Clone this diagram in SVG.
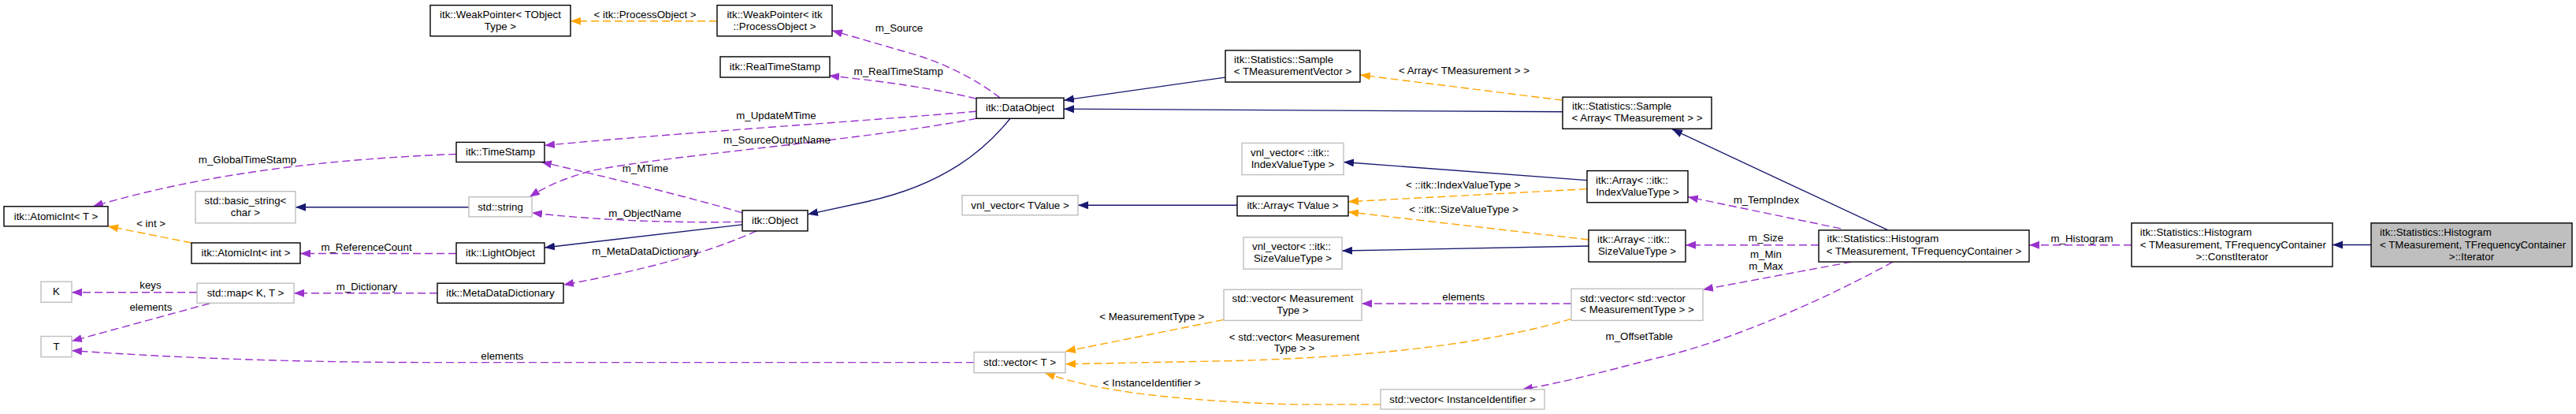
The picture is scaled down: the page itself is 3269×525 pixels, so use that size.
<svg xmlns="http://www.w3.org/2000/svg" width="3269" height="525" viewBox="0 0 3269 525">
<style>
text{font-family:"Liberation Sans",Arial,sans-serif;font-size:13.3px;fill:#000}
.m{text-anchor:middle}
.s{text-anchor:start}
.nb{fill:#fff;stroke:#000;stroke-width:1.4}
.ng{fill:#fff;stroke:#bfbfbf;stroke-width:1.4}
.nh{fill:#bfbfbf;stroke:#000;stroke-width:1.4}
.inh{fill:none;stroke:#191970;stroke-width:1.3;marker-end:url(#ab)}
.use{fill:none;stroke:#9a32cd;stroke-width:1.4;stroke-dasharray:10,5;marker-end:url(#ap)}
.tpl{fill:none;stroke:#ffa500;stroke-width:1.4;stroke-dasharray:10,5;marker-end:url(#ao)}
</style>
<defs>
<marker id="ab" viewBox="0 0 13 10" refX="13" refY="5" markerWidth="13" markerHeight="10" markerUnits="userSpaceOnUse" orient="auto"><path d="M0,0 L13,5 L0,10 z" fill="#191970"/></marker>
<marker id="ap" viewBox="0 0 13 10" refX="13" refY="5" markerWidth="13" markerHeight="10" markerUnits="userSpaceOnUse" orient="auto"><path d="M0,0 L13,5 L0,10 z" fill="#9a32cd"/></marker>
<marker id="ao" viewBox="0 0 13 10" refX="13" refY="5" markerWidth="13" markerHeight="10" markerUnits="userSpaceOnUse" orient="auto"><path d="M0,0 L13,5 L0,10 z" fill="#ffa500"/></marker>
</defs>
<rect width="3269" height="525" fill="#fff"/>
<g id="diagram" transform="translate(0,0.6) scale(1,1.0045)">
<g id="connectors">
<path class="inh" d="M3009,308.5 L2960,308.5"/>
<path class="inh" d="M2396,290 L2122,162.5"/>
<path class="inh" d="M1983,140.5 L1350,137"/>
<path class="inh" d="M1555,97 L1350,126"/>
<path class="inh" d="M1282,149 C1250,188 1200,232 1100,254 L1025,270"/>
<path class="inh" d="M942,283 L691,312"/>
<path class="inh" d="M595,261 L375,261"/>
<path class="inh" d="M1570,258.5 L1368,258.5"/>
<path class="inh" d="M2014,227 L1705,204"/>
<path class="inh" d="M2016,310 L1703,316"/>
<path class="tpl" d="M910,26 L724,26"/>
<path class="tpl" d="M243,306 L137,285"/>
<path class="tpl" d="M1983,126 L1726,94"/>
<path class="tpl" d="M2014,238 L1711,254"/>
<path class="tpl" d="M2016,302 L1711,267"/>
<path class="tpl" d="M1553,403 L1352,443"/>
<path class="tpl" d="M1994,402 C1900,430 1760,450 1560,455 L1352,459"/>
<path class="tpl" d="M1752,510 L1640,510 C1520,506 1400,497 1326,470"/>
<path class="use" d="M2705,308.7 L2575,308.7"/>
<path class="use" d="M2336,288 L2142,248"/>
<path class="use" d="M2308,308.7 L2139,308.7"/>
<path class="use" d="M2350,330 L2161,365"/>
<path class="use" d="M2402,330 C2330,370 2200,430 2100,452 C2030,470 1985,482 1932,491"/>
<path class="use" d="M1994,382.7 L1728,382.7"/>
<path class="use" d="M1236,457 L560,457 C400,457 250,453 91,442"/>
<path class="use" d="M250,368.5 L91,368.5"/>
<path class="use" d="M266,382.5 L91,430"/>
<path class="use" d="M555,369.5 L373,369.5"/>
<path class="use" d="M579,319.5 L381,319.5"/>
<path class="use" d="M579,194 C420,200 260,218 118,260"/>
<path class="use" d="M942,268 C880,250 780,225 687,204"/>
<path class="use" d="M942,279.5 C860,281 760,278 675,268"/>
<path class="use" d="M960,291 C900,318 820,340 715,359"/>
<path class="use" d="M1239,140 C1100,152 850,168 691,183"/>
<path class="use" d="M1239,149 C1100,176 850,195 750,215 C715,225 692,235 672,248"/>
<path class="use" d="M1239,124 C1180,110 1120,102 1052,95"/>
<path class="use" d="M1269,123 C1240,100 1200,80 1160,68 L1056,38"/>
<text class="m" x="818.6" y="22">&lt; itk::ProcessObject &gt;</text>
<text class="m" x="191.6" y="286">&lt; int &gt;</text>
<text class="m" x="314" y="205.5">m_GlobalTimeStamp</text>
<text class="m" x="465" y="316">m_ReferenceCount</text>
<text class="m" x="191" y="364">keys</text>
<text class="m" x="465.5" y="365.5">m_Dictionary</text>
<text class="m" x="191.4" y="392">elements</text>
<text class="m" x="985" y="149.5">m_UpdateMTime</text>
<text class="m" x="986" y="180.5">m_SourceOutputName</text>
<text class="m" x="819" y="216">m_MTime</text>
<text class="m" x="818.4" y="272.8">m_ObjectName</text>
<text class="m" x="818.8" y="320.5">m_MetaDataDictionary</text>
<text class="m" x="637.3" y="453">elements</text>
<text class="m" x="1141" y="38.8">m_Source</text>
<text class="m" x="1140.2" y="93.8">m_RealTimeStamp</text>
<text class="m" x="1461.8" y="403.5">&lt; MeasurementType &gt;</text>
<text class="m" x="1461.6" y="486.8">&lt; InstanceIdentifier &gt;</text>
<text class="m" x="1858" y="92.8">&lt; Array&lt; TMeasurement &gt; &gt;</text>
<text class="m" x="1856.6" y="237.2">&lt; ::itk::IndexValueType &gt;</text>
<text class="m" x="1857.5" y="267.8">&lt; ::itk::SizeValueType &gt;</text>
<text class="m" x="1857.3" y="379.2">elements</text>
<text class="m" x="1642.5" y="429.5">&lt; std::vector&lt; Measurement</text>
<text class="m" x="1642.5" y="443">Type &gt; &gt;</text>
<text class="m" x="2080.3" y="428.8">m_OffsetTable</text>
<text class="m" x="2241.4" y="256.2">m_TempIndex</text>
<text class="m" x="2241" y="304.5">m_Size</text>
<text class="m" x="2241" y="324.8">m_Min</text>
<text class="m" x="2241" y="339.5">m_Max</text>
<text class="m" x="2642" y="304.8">m_Histogram</text>
</g>
<g id="n_atomicT"><rect class="nb" x="5" y="260" width="132" height="25"/><text class="m" x="71" y="277">itk::AtomicInt&lt; T &gt;</text></g>
<g id="n_basicstring"><rect class="ng" x="248" y="241" width="127" height="40"/><text class="m" x="311.5" y="257">std::basic_string&lt;</text><text class="m" x="311.5" y="272">char &gt;</text></g>
<g id="n_atomicInt"><rect class="nb" x="243" y="306" width="138" height="26"/><text class="m" x="312" y="323">itk::AtomicInt&lt; int &gt;</text></g>
<g id="n_K"><rect class="ng" x="52" y="355" width="39" height="26"/><text class="m" x="71.5" y="372">K</text></g>
<g id="n_map"><rect class="ng" x="250" y="357" width="123" height="25"/><text class="m" x="311.5" y="374">std::map&lt; K, T &gt;</text></g>
<g id="n_T"><rect class="ng" x="52" y="424" width="39" height="26"/><text class="m" x="71.5" y="441">T</text></g>
<g id="n_wpTObject"><rect class="nb" x="546" y="6" width="178" height="39"/><text class="m" x="635" y="22">itk::WeakPointer&lt; TObject</text><text class="m" x="635" y="37">Type &gt;</text></g>
<g id="n_timestamp"><rect class="nb" x="579" y="179" width="112" height="25"/><text class="m" x="635" y="196">itk::TimeStamp</text></g>
<g id="n_string"><rect class="ng" x="595" y="248" width="80" height="25"/><text class="m" x="635" y="265">std::string</text></g>
<g id="n_lightobject"><rect class="nb" x="579" y="306" width="112" height="26"/><text class="m" x="635" y="323">itk::LightObject</text></g>
<g id="n_mdd"><rect class="nb" x="555" y="357" width="160" height="25"/><text class="m" x="635" y="374">itk::MetaDataDictionary</text></g>
<g id="n_wpProc"><rect class="nb" x="910" y="6" width="146" height="39"/><text class="m" x="983" y="22">itk::WeakPointer&lt; itk</text><text class="m" x="983" y="37">::ProcessObject &gt;</text></g>
<g id="n_realtimestamp"><rect class="nb" x="914" y="71" width="139" height="26"/><text class="m" x="983.5" y="88">itk::RealTimeStamp</text></g>
<g id="n_object"><rect class="nb" x="942" y="265" width="83" height="26"/><text class="m" x="983.5" y="282">itk::Object</text></g>
<g id="n_dataobject"><rect class="nb" x="1239" y="123" width="111" height="26"/><text class="m" x="1294.5" y="140">itk::DataObject</text></g>
<g id="n_vnlTValue"><rect class="ng" x="1221" y="246" width="147" height="25"/><text class="m" x="1294.5" y="263">vnl_vector&lt; TValue &gt;</text></g>
<g id="n_vectorT"><rect class="ng" x="1236" y="444" width="116" height="26"/><text class="m" x="1294" y="461">std::vector&lt; T &gt;</text></g>
<g id="n_sampleTMV"><rect class="nb" x="1555" y="63" width="171" height="40"/><text class="s" x="1566" y="79">itk::Statistics::Sample</text><text class="m" x="1640.5" y="94">&lt; TMeasurementVector &gt;</text></g>
<g id="n_vnlIndex"><rect class="ng" x="1576" y="180" width="129" height="40"/><text class="s" x="1587" y="196.5">vnl_vector&lt; ::itk::</text><text class="m" x="1640.5" y="211">IndexValueType &gt;</text></g>
<g id="n_arrayTValue"><rect class="nb" x="1570" y="247" width="141" height="25"/><text class="m" x="1640.5" y="263">itk::Array&lt; TValue &gt;</text></g>
<g id="n_vnlSize"><rect class="ng" x="1578" y="299" width="125" height="40"/><text class="s" x="1589" y="315">vnl_vector&lt; ::itk::</text><text class="m" x="1640.5" y="330">SizeValueType &gt;</text></g>
<g id="n_vecMT"><rect class="ng" x="1553" y="365" width="175" height="39"/><text class="m" x="1640.5" y="381">std::vector&lt; Measurement</text><text class="m" x="1640.5" y="395.5">Type &gt;</text></g>
<g id="n_sampleArr"><rect class="nb" x="1983" y="122" width="189" height="40"/><text class="s" x="1995" y="138">itk::Statistics::Sample</text><text class="m" x="2077.5" y="153">&lt; Array&lt; TMeasurement &gt; &gt;</text></g>
<g id="n_arrIndex"><rect class="nb" x="2014" y="215" width="128" height="40"/><text class="s" x="2025" y="231">itk::Array&lt; ::itk::</text><text class="m" x="2078" y="246">IndexValueType &gt;</text></g>
<g id="n_arrSize"><rect class="nb" x="2016" y="290" width="123" height="40"/><text class="s" x="2027" y="306">itk::Array&lt; ::itk::</text><text class="m" x="2077.5" y="321">SizeValueType &gt;</text></g>
<g id="n_vecvec"><rect class="ng" x="1994" y="364" width="167" height="40"/><text class="s" x="2005" y="380.5">std::vector&lt; std::vector</text><text class="m" x="2077.5" y="395">&lt; MeasurementType &gt; &gt;</text></g>
<g id="n_vecII"><rect class="ng" x="1752" y="491" width="208" height="25"/><text class="m" x="1856" y="508">std::vector&lt; InstanceIdentifier &gt;</text></g>
<g id="n_hist"><rect class="nb" x="2308" y="290" width="267" height="40"/><text class="s" x="2318.6" y="305.5">itk::Statistics::Histogram</text><text class="m" x="2441.5" y="320.5">&lt; TMeasurement, TFrequencyContainer &gt;</text></g>
<g id="n_constIter"><rect class="nb" x="2705" y="281" width="255" height="55"/><text class="s" x="2715.8" y="297.5">itk::Statistics::Histogram</text><text class="s" x="2715.8" y="312.5">&lt; TMeasurement, TFrequencyContainer</text><text class="m" x="2832.5" y="327.5">&gt;::ConstIterator</text></g>
<g id="n_iter"><rect class="nh" x="3009" y="281" width="255" height="55"/><text class="s" x="3020" y="297.5">itk::Statistics::Histogram</text><text class="s" x="3020" y="312.5">&lt; TMeasurement, TFrequencyContainer</text><text class="m" x="3136.5" y="327.5">&gt;::Iterator</text></g>
</g>
</svg>
